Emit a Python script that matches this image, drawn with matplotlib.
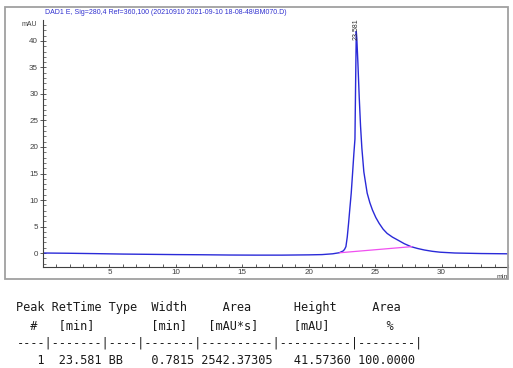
import matplotlib
matplotlib.use("Agg")
import matplotlib.pyplot as plt
from matplotlib.patches import Rectangle
from matplotlib.ticker import MultipleLocator

# ---- data ----
time_min = [0, 2, 4, 6, 8, 10, 12, 14, 16, 18, 20, 21, 21.8, 22.3, 22.6, 22.7,
            22.8, 22.9, 23.0, 23.1, 23.2, 23.3, 23.4, 23.48, 23.53, 23.58, 23.62,
            23.7, 23.8, 23.9, 24.0, 24.15, 24.4, 24.6, 24.8, 25.05, 25.3, 25.6,
            25.9, 26.3, 26.7, 27.2, 27.7, 28.2, 28.7, 29.3, 29.9, 31, 33, 35]
signal_mau = [0.0, -0.05, -0.12, -0.2, -0.25, -0.3, -0.33, -0.38, -0.4, -0.4,
              -0.35, -0.3, -0.15, 0.05, 0.4, 0.7, 1.2, 3.0, 5.6, 8.5, 11.3,
              15.0, 18.8, 21.5, 32.0, 41.8, 40.5, 36.0, 29.5, 24.0, 19.8, 15.3,
              11.3, 9.5, 8.1, 6.7, 5.6, 4.5, 3.7, 3.0, 2.45, 1.75, 1.2, 0.85,
              0.57, 0.32, 0.15, 0.0, -0.1, -0.15]
baseline_t = [22.35, 27.75]
baseline_y = [0.05, 1.2]
peak_rt = 23.581
peak_label = "23.581"
x_ticks = [5, 10, 15, 20, 25, 30]
y_ticks = [0, 5, 10, 15, 20, 25, 30, 35, 40]
title = "DAD1 E, Sig=280,4 Ref=360,100 (20210910 2021-09-10 18-08-48\\BM070.D)"

table_lines = [
    "Peak RetTime Type  Width     Area      Height     Area  ",
    "  #   [min]        [min]   [mAU*s]     [mAU]        %   ",
    "----|-------|----|-------|----------|----------|--------|",
    "   1  23.581 BB    0.7815 2542.37305   41.57360 100.0000",
]

W, H = 513, 368
fig = plt.figure(figsize=(W / 100, H / 100), dpi=100)

# outer frame
fig.patches.append(Rectangle((5 / W, 1 - 279 / H), 503 / W, 272 / H,
                             transform=fig.transFigure, fill=False,
                             edgecolor="#a0a0a0", linewidth=1.3))

ax = fig.add_axes([43 / W, 1 - 267 / H, 465 / W, 247 / H])
ax.set_xlim(0, 35)
ax.set_ylim(-2.64, 43.96)
ax.plot(time_min, signal_mau, color="#2a2ad8", linewidth=1.0,
        solid_joinstyle="round")
ax.plot(baseline_t, baseline_y, color="#f050f0", linewidth=0.9)

for s in ("top", "right"):
    ax.spines[s].set_visible(False)
for s in ("left", "bottom"):
    ax.spines[s].set_color("#404040")
    ax.spines[s].set_linewidth(0.8)

ax.set_xticks(x_ticks)
ax.set_xticklabels([str(v) for v in x_ticks], family="Liberation Sans")
ax.xaxis.set_minor_locator(MultipleLocator(1))
ax.set_yticks(y_ticks)
ax.set_yticklabels([str(v) for v in y_ticks], family="Liberation Sans")
ax.yaxis.set_minor_locator(MultipleLocator(1))
ax.tick_params(axis="x", which="both", direction="in", length=2.5, width=0.6,
               colors="#404040", labelsize=5.8, pad=1.5)
ax.tick_params(axis="y", which="major", direction="inout", length=4, width=0.6,
               colors="#404040", labelsize=5.8, pad=1.5)
ax.tick_params(axis="y", which="minor", direction="in", length=2, width=0.5,
               colors="#404040")

ax.text(-0.012, 43.2, "mAU", transform=ax.get_yaxis_transform(), ha="right",
        va="center", fontsize=5, color="#404040", family="Liberation Sans")
ax.text(1.0, -0.03, "min", transform=ax.transAxes, ha="right", va="top",
        fontsize=5, color="#404040", family="Liberation Sans")
ax.text(peak_rt, 40.2, peak_label, rotation=90, ha="center", va="bottom",
        fontsize=5, color="#303030", family="Liberation Sans")

fig.text(45 / W, 1 - 12 / H, title, ha="left", va="center", fontsize=5.0,
         color="#3030d0", family="Liberation Sans")

ys = [307, 326, 343, 360]
for line, y in zip(table_lines, ys):
    fig.text(16.5 / W, 1 - y / H, line, ha="left", va="center",
             family="DejaVu Sans Mono", fontsize=8.55, color="#1a1a1a")

fig.savefig("out.png", dpi=100)
